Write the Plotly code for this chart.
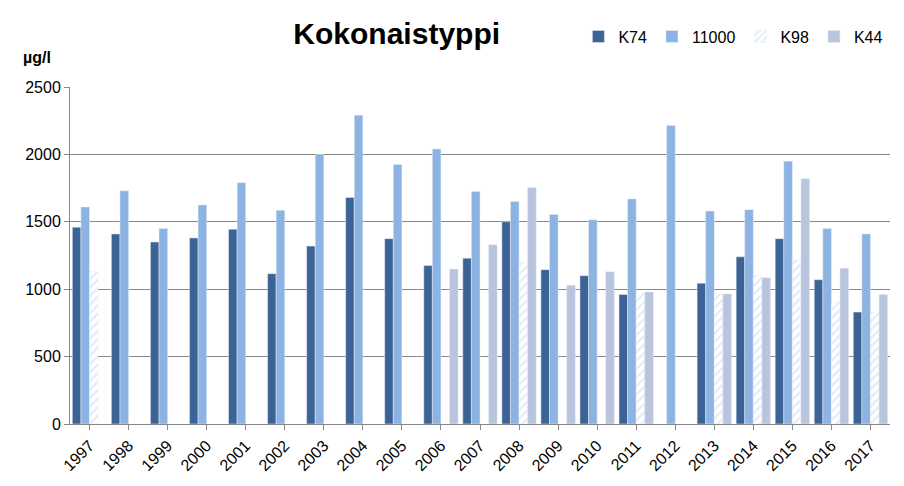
import plotly.graph_objects as go

years = [str(y) for y in range(1997, 2018)]
k74 = [1460, 1410, 1350, 1380, 1445, 1115, 1320, 1680, 1375, 1175, 1230, 1500,
       1145, 1100, 960, None, 1045, 1240, 1375, 1070, 830]
s11000 = [1610, 1730, 1450, 1625, 1790, 1585, 2000, 2290, 1925, 2040, 1725, 1650,
          1555, 1515, 1670, 2215, 1580, 1590, 1950, 1450, 1410]
k98 = [1130, None, None, None, None, None, None, None, None, None, None, 1200,
       None, None, 970, None, 965, 1100, 1215, 905, 830]
k44 = [None, None, None, None, None, None, None, None, None, 1150, 1330, 1755,
       1030, 1130, 980, None, 965, 1085, 1820, 1155, 960]

fig = go.Figure()
fig.add_trace(go.Bar(x=years, y=k74, name="K74", marker_color="#3b6395"))
fig.add_trace(go.Bar(x=years, y=s11000, name="11000", marker_color="#8db3e2"))
fig.add_trace(go.Bar(x=years, y=k98, name="K98",
                     marker=dict(color="white",
                                 pattern=dict(shape="/", fgcolor="#c6d6ee", bgcolor="white",
                                              size=6, solidity=0.35))))
fig.add_trace(go.Bar(x=years, y=k44, name="K44", marker_color="#b9c4dd"))

fig.update_layout(
    width=904, height=486,
    paper_bgcolor="white", plot_bgcolor="white",
    margin=dict(l=62, r=22, t=70, b=70),
    barmode="group", bargap=0.12, bargroupgap=0,
    font=dict(family="Liberation Sans, Arial", size=16, color="black"),
    title=dict(text="<b>Kokonaistyppi</b>", x=0.43, xanchor="center", y=0.97, yanchor="top",
               font=dict(size=30, family="Liberation Sans, Arial")),
    legend=dict(orientation="h", x=0.62, y=1.2, xanchor="left", yanchor="top",
                font=dict(size=16), traceorder="normal"),
    xaxis=dict(tickangle=-45, showgrid=False, showline=True, linecolor="#888",
               ticks="outside", tickcolor="#888", tickfont=dict(size=16)),
    yaxis=dict(range=[0, 2500], dtick=500, showgrid=True, gridcolor="#888",
               showline=True, linecolor="#888", ticks="outside", tickcolor="#888",
               zeroline=False, tickfont=dict(size=16)),
    annotations=[dict(text="<b>µg/l</b>", xref="paper", yref="paper", x=-0.06, y=1.12,
                      xanchor="left", showarrow=False, font=dict(size=16))],
)
fig.write_html("out.html")
